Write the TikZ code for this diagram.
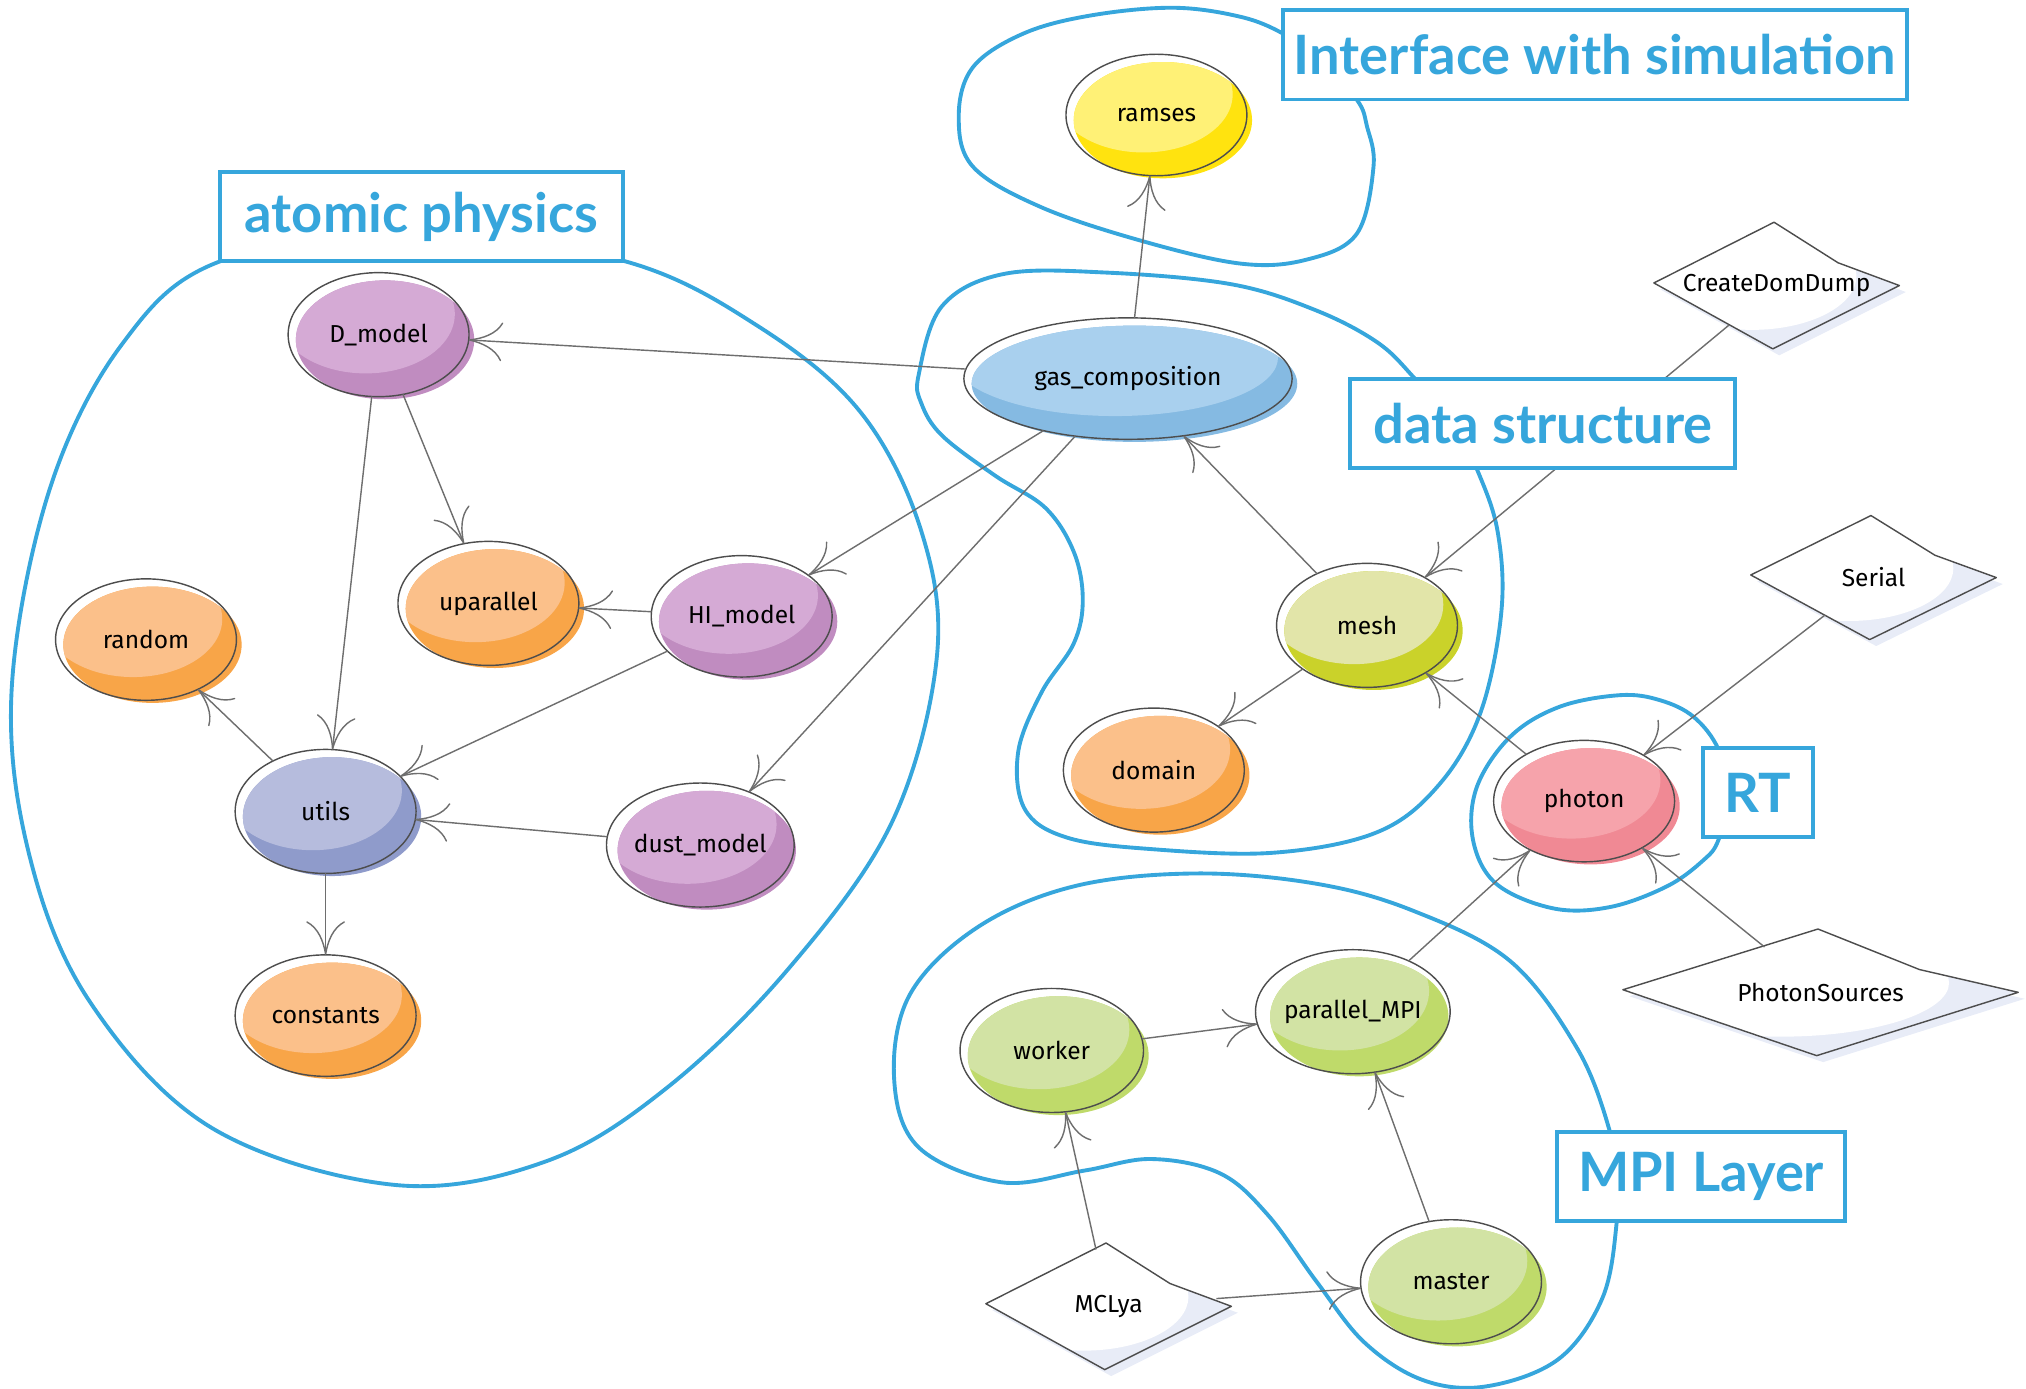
\documentclass[tikz,border=0pt]{standalone}
\usepackage{fontspec}
\setmainfont{Fira Sans}
\newfontfamily\labelfont{Lato}
\usetikzlibrary{shapes.geometric,arrows.meta}

\definecolor{groupblue}{HTML}{36A6DC}
\definecolor{edgegrey}{HTML}{4D4D4D}
\definecolor{linkgrey}{HTML}{6E6E6E}
\definecolor{paleshade}{HTML}{E8ECF7}
\definecolor{purpleL}{HTML}{D5AAD5}\definecolor{purpleD}{HTML}{C08CC0}
\definecolor{orangeL}{HTML}{FBC08A}\definecolor{orangeD}{HTML}{F8A548}
\definecolor{gasL}{HTML}{A9D0EE}\definecolor{gasD}{HTML}{85BAE2}
\definecolor{utilsL}{HTML}{B6BCDD}\definecolor{utilsD}{HTML}{8F9BCB}
\definecolor{meshL}{HTML}{E2E5A9}\definecolor{meshD}{HTML}{CAD22A}
\definecolor{yellowL}{HTML}{FFF176}\definecolor{yellowD}{HTML}{FFE30F}
\definecolor{pinkL}{HTML}{F6A3AB}\definecolor{pinkD}{HTML}{F08994}
\definecolor{greenL}{HTML}{D2E3A4}\definecolor{greenD}{HTML}{BFDA6A}

\tikzset{
  module/.style={ellipse, draw=edgegrey, line width=1.1pt, inner sep=0pt,
    outer sep=0pt, font=\fontsize{19}{19}\selectfont},
  decision/.style={diamond, shape aspect=3, inner sep=0pt, outer sep=0pt,
    font=\fontsize{19}{19}\selectfont},
  link/.style={draw=linkgrey, line width=1.1pt,
    -{Computer Modern Rightarrow[length=26pt,width=30pt,line width=1.1pt]}},
  group/.style={draw=groupblue, line width=3pt},
  grouplabel/.style={draw=groupblue, line width=3pt, fill=white,
    minimum height=69pt, inner sep=0pt, text=groupblue,
    font=\labelfont\bfseries\fontsize{42}{42}\selectfont},
}

% module bubble: name, x, y, x radius, y radius, light colour, dark colour, text
\newcommand\module[8]{%
  \fill[#7] (#2+5,#3+4) ellipse [x radius=#4-1, y radius=#5-2];
  \begin{scope}
    \clip (#2+5,#3+4) ellipse [x radius=#4-1, y radius=#5-2];
    \fill[#6] (#2-10,#3-16) ellipse [x radius=#4-1, y radius=#5-2];
  \end{scope}
  \node[module, minimum width=2*#4, minimum height=2*#5] (#1) at (#2,#3) {#8};
}

% program diamond: name, x, y, half width, half height, text
\newcommand\decision[6]{%
  \fill[paleshade] (#2-#4+5,#3+3) -- (#2+3,#3-#5+5) -- (#2+0.5*#4+5,#3-0.36*#5+5)
    -- (#2+#4+5,#3+5) -- (#2+2,#3+#5+5) -- cycle;
  \begin{scope}
    \clip (#2-#4,#3-2) -- (#2-2,#3-#5) -- (#2+0.5*#4,#3-0.36*#5)
      -- (#2+#4,#3) -- (#2-3,#3+#5) -- cycle;
    \fill[paleshade] (#2-#4,#3-#5) rectangle (#2+#4,#3+#5);
    \fill[white] (#2-0.2*#4,#3-0.15*#5) ellipse [x radius=0.85*#4, y radius=0.85*#5];
  \end{scope}
  \draw[edgegrey, line width=1.1pt, line join=round]
    (#2-#4,#3-2) -- (#2-2,#3-#5) -- (#2+0.5*#4,#3-0.36*#5)
    -- (#2+#4,#3) -- (#2-3,#3+#5) -- cycle;
  \node[decision, minimum width=2*#4, minimum height=2*#5] (#1) at (#2,#3) {#6};
}

\begin{document}
\begin{tikzpicture}[x=1pt, y=-1pt]
\useasboundingbox (0,0) rectangle (1568,1075);

% group outlines
\draw[group] plot[smooth cycle, tension=0.6] coordinates {
  (171,202) (94,267) (38,380) (9,534) (23,663) (70,776) (164,873) (305,917)
  (422,899) (516,842) (610,750) (690,637) (725,509) (713,411) (666,319)
  (586,252) (483,202) (326,180)};
\draw[group] plot[smooth cycle, tension=0.6] coordinates {
  (993,26) (960,13) (908,6) (844,12) (792,26) (753,52) (742,90) (753,129)
  (805,160) (882,186) (960,204) (1011,201) (1050,181) (1063,129) (1058,98)
  (1050,77) (1020,45)};
\draw[group] plot[smooth cycle, tension=0.6] coordinates {
  (711,290) (729,237) (777,212) (857,211) (953,220) (1018,240) (1066,265)
  (1095,293) (1125,328) (1143,363) (1159,411) (1162,473) (1146,551)
  (1114,607) (1066,644) (985,660) (889,657) (825,648) (793,626) (788,582)
  (806,536) (831,498) (838,464) (831,427) (809,393) (770,368) (729,337)
  (713,312)};
\draw[group] plot[smooth cycle, tension=0.6] coordinates {
  (925,676) (1019,684) (1094,705) (1169,744) (1221,812) (1246,876)
  (1250,912) (1251,948) (1240,1005) (1206,1052) (1150,1073) (1101,1068)
  (1056,1039) (1019,992) (981,940) (944,908) (891,897) (839,906) (775,915)
  (711,888) (692,835) (704,770) (756,718) (831,686)};
\draw[group] plot[smooth cycle, tension=0.6] coordinates {
  (1254,538) (1285,542) (1311,555) (1330,580) (1338,615) (1330,650)
  (1318,666) (1290,686) (1246,702) (1202,703) (1158,684) (1140,650)
  (1143,609) (1169,570) (1207,547)};

% modules
\module{ramses}{895}{89}{70}{47}{yellowL}{yellowD}{ramses}
\module{gas}{873}{293}{127}{47}{gasL}{gasD}{gas\_composition}
\module{dmodel}{293}{259}{70}{48}{purpleL}{purpleD}{D\_model}
\module{upar}{378}{467}{70}{48}{orangeL}{orangeD}{uparallel}
\module{himodel}{574}{477}{70}{47}{purpleL}{purpleD}{HI\_model}
\module{random}{113}{495}{70}{47}{orangeL}{orangeD}{random}
\module{utils}{252}{628}{70}{48}{utilsL}{utilsD}{utils}
\module{dust}{542}{654}{70}{48}{purpleL}{purpleD}{dust\_model}
\module{constants}{252}{786}{70}{47}{orangeL}{orangeD}{constants}
\module{mesh}{1058}{484}{70}{48}{meshL}{meshD}{mesh}
\module{domain}{893}{596}{70}{48}{orangeL}{orangeD}{domain}
\module{photon}{1226}{620}{70}{47}{pinkL}{pinkD}{photon}
\module{worker}{814}{813}{71}{48}{greenL}{greenD}{worker}
\module{pmpi}{1047}{783}{70}{48}{greenL}{greenD}{parallel\_MPI}
\module{master}{1123}{992}{70}{48}{greenL}{greenD}{master}

% programs
\decision{createdom}{1375}{221}{95}{49}{CreateDomDump}
\decision{serial}{1450}{447}{95}{48}{Serial}
\decision{sources}{1409}{768}{153}{49}{PhotonSources}
\decision{mclya}{858}{1011}{95}{49}{MCLya}

% dependencies
\draw[link] (gas) -- (ramses);
\draw[link] (gas) -- (dmodel);
\draw[link] (gas) -- (himodel);
\draw[link] (gas) -- (dust);
\draw[link] (mesh) -- (gas);
\draw[link] (mesh) -- (domain);
\draw[link] (createdom) -- (mesh);
\draw[link] (photon) -- (mesh);
\draw[link] (serial) -- (photon);
\draw[link] (sources) -- (photon);
\draw[link] (pmpi) -- (photon);
\draw[link] (worker) -- (pmpi);
\draw[link] (master) -- (pmpi);
\draw[link] (mclya) -- (worker);
\draw[link] (mclya) -- (master);
\draw[link] (dmodel) -- (upar);
\draw[link] (dmodel) -- (utils);
\draw[link] (himodel) -- (upar);
\draw[link] (himodel) -- (utils);
\draw[link] (dust) -- (utils);
\draw[link] (utils) -- (random);
\draw[link] (utils) -- (constants);

% group labels
\node[grouplabel, minimum width=483] (lblsim) at (1234.5,42.5) {Interface with simulation};
\node[grouplabel, minimum width=312] (lblatom) at (326,167.5) {atomic physics};
\node[grouplabel, minimum width=298] (lbldata) at (1194,327.5) {data structure};
\node[grouplabel, minimum width=85] (lblrt) at (1360.5,613.5) {RT};
\node[grouplabel, minimum width=223] (lblmpi) at (1316.5,910.5) {MPI Layer};
\end{tikzpicture}
\end{document}
